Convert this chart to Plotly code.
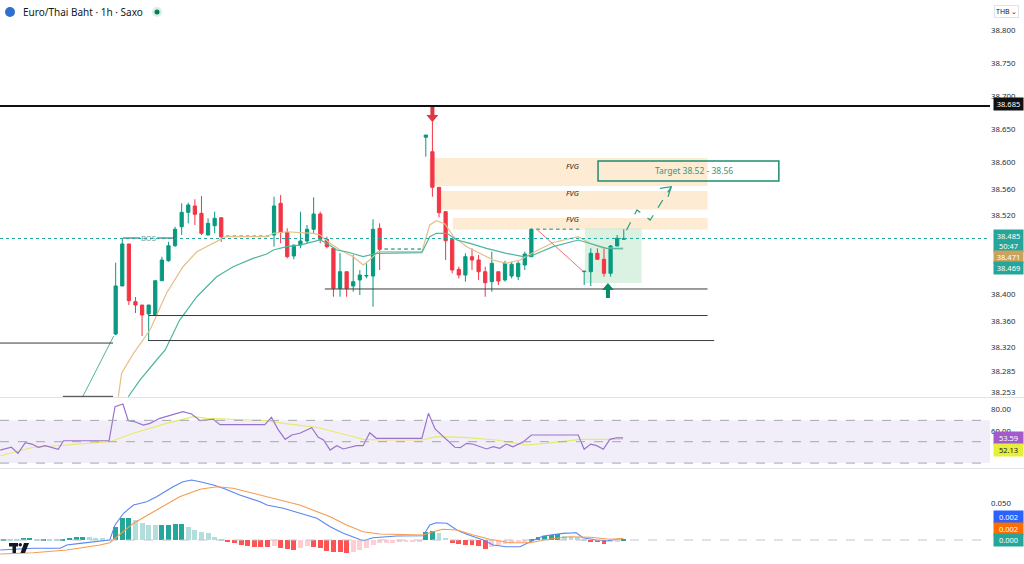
import plotly.graph_objects as go

# ---------------- price data (1h bars, index 0 = first bar in view) ----------------
bar_idx = list(range(78))

opens = ([38.3407, 38.4132, 38.4767, 38.3895, 38.3845, 38.3710, 38.3694, 38.4212, 38.4514,
          38.4740, 38.5028, 38.5245, 38.5341, 38.5230, 38.4902, 38.5043, 38.5164]
         + [38.4885] * 7
         + [38.4902, 38.5381, 38.4943, 38.4585, 38.4751, 38.4812, 38.4989, 38.5220, 38.4837,
            38.4701, 38.4097, 38.4348, 38.4132, 38.4223, 38.4283, 38.4283, 38.5004]
         + [38.4690] * 6
         + [38.6379, 38.6161, 38.5623, 38.5255, 38.4837, 38.4384, 38.4298, 38.4575, 38.4525,
            38.4348, 38.4197, 38.4348, 38.4223, 38.4283, 38.4273, 38.4449, 38.4575]
         + [38.4989] * 7
         + [38.4349, 38.4348, 38.4626, 38.4535, 38.4324, 38.4736, 38.4838])
highs = ([38.4484, 38.4857, 38.4767, 38.3966, 38.3845, 38.3845, 38.4212, 38.4575, 38.4800,
          38.5028, 38.5381, 38.5391, 38.5442, 38.5492, 38.5155, 38.5255, 38.5164]
         + [38.4885] * 7
         + [38.5480, 38.5507, 38.5004, 38.4751, 38.5255, 38.5054, 38.5472, 38.5255, 38.4877,
            38.4701, 38.4630, 38.4348, 38.4600, 38.4373, 38.4475, 38.5140, 38.5079]
         + [38.4690] * 6
         + [38.6413, 38.6620, 38.5623, 38.5255, 38.4837, 38.4424, 38.4626, 38.4701, 38.4600,
            38.4424, 38.4650, 38.4348, 38.4514, 38.4498, 38.4505, 38.4651, 38.5004]
         + [38.4989] * 7
         + [38.4358, 38.4701, 38.4701, 38.4701, 38.4751, 38.4902, 38.4989])
lows = ([38.3392, 38.4132, 38.3845, 38.3724, 38.3376, 38.3316, 38.3694, 38.4212, 38.4499,
         38.4725, 38.4902, 38.5079, 38.5054, 38.4902, 38.4902, 38.4928, 38.4800]
        + [38.4885] * 7
        + [38.4726, 38.4777, 38.4550, 38.4535, 38.4701, 38.4777, 38.4928, 38.4777, 38.4701,
           38.3970, 38.3970, 38.3970, 38.4046, 38.3996, 38.4248, 38.3819, 38.4374]
        + [38.4690] * 6
        + [38.6086, 38.5481, 38.5170, 38.4525, 38.4324, 38.4248, 38.4197, 38.4374, 38.4223,
           38.3970, 38.4046, 38.4147, 38.4197, 38.4248, 38.4223, 38.4374, 38.4575]
        + [38.4989] * 7
        + [38.4147, 38.4132, 38.4535, 38.4273, 38.4273, 38.4736, 38.4838])
closes = ([38.4132, 38.4767, 38.3910, 38.3845, 38.3694, 38.3845, 38.4212, 38.4525, 38.4740,
           38.4989, 38.5245, 38.5356, 38.5215, 38.4928, 38.5079, 38.5155, 38.4875]
          + [38.4885] * 7
          + [38.5341, 38.4943, 38.4575, 38.4751, 38.4812, 38.4989, 38.5220, 38.4837, 38.4726,
             38.4097, 38.4348, 38.4097, 38.4197, 38.4298, 38.4290, 38.4989, 38.4686]
          + [38.4690] * 6
          + [38.6413, 38.5623, 38.5240, 38.4816, 38.4374, 38.4298, 38.4575, 38.4525, 38.4348,
             38.4182, 38.4475, 38.4207, 38.4475, 38.4460, 38.4475, 38.4615, 38.4989]
          + [38.4989] * 7
          + [38.4355, 38.4626, 38.4535, 38.4324, 38.4736, 38.4853, 38.4850])

# moving averages (bar index, price)
ema_fast_x = [0.4, 0.9, 2.7, 5.2, 7.7, 10.2, 12.3, 14.3, 15.8, 16.7, 22.9, 23.9, 25.9, 27.9, 29.9,
              31.0, 32.5, 34.0, 36.0, 37.5, 38.5, 39.8, 46.4, 47.6, 48.6, 49.9, 51.2, 53.2, 55.2,
              57.2, 59.2, 61.3, 63.3, 66.3, 70.1, 71.9, 73.9, 75.4, 76.9]
ema_fast_y = [38.2459, 38.2813, 38.3115, 38.3467, 38.4022, 38.4423, 38.4650, 38.4751, 38.4837,
              38.4877, 38.4877, 38.4928, 38.4952, 38.4937, 38.4928, 38.4902, 38.4777, 38.4676,
              38.4575, 38.4449, 38.4525, 38.4650, 38.4650, 38.5054, 38.5119, 38.5069, 38.4877,
              38.4726, 38.4626, 38.4525, 38.4475, 38.4525, 38.4638, 38.4789, 38.4877, 38.4777,
              38.4701, 38.4701, 38.4710]
ema_slow_x = [1.9, 3.7, 6.2, 7.5, 9.7, 12.3, 15.3, 17.8, 20.8, 22.9, 23.9, 25.9, 27.9, 29.9, 31.0,
              32.0, 33.5, 35.0, 37.5, 39.5, 46.4, 47.6, 48.6, 50.2, 51.7, 53.7, 56.2, 59.2, 61.8,
              63.3, 66.3, 70.1, 71.9, 74.4, 76.9]
ema_slow_y = [38.2459, 38.2712, 38.3014, 38.3165, 38.3618, 38.3970, 38.4272, 38.4423, 38.4550,
              38.4615, 38.4676, 38.4726, 38.4751, 38.4801, 38.4827, 38.4777, 38.4676, 38.4650,
              38.4575, 38.4626, 38.4635, 38.4877, 38.4928, 38.4928, 38.4827, 38.4777, 38.4701,
              38.4626, 38.4575, 38.4600, 38.4726, 38.4827, 38.4777, 38.4701, 38.4694]

# ---------------- RSI pane ----------------
rsi_x = [-17.5, -15.8, -14.8, -13.7, -12.7, -11.7, -10.7, -8.7, -7.9, -1.0, -0.1, 1.1, 1.9, 2.9,
         4.2, 5.2, 6.7, 8.7, 10.2, 11.5, 12.8, 14.8, 15.8, 22.6, 23.6, 24.6, 25.7, 26.7, 27.9,
         29.7, 30.7, 31.5, 32.5, 33.5, 34.5, 36.5, 37.5, 38.5, 39.5, 46.4, 47.4, 48.4, 49.6,
         51.4, 52.2, 53.2, 54.2, 56.2, 57.2, 58.2, 59.2, 60.2, 61.8, 63.0, 70.1, 71.0, 72.0,
         72.9, 73.9, 74.9, 75.9, 76.9]
rsi_y = [42.2, 44.8, 39.1, 49.1, 47.8, 44.8, 46.3, 42.9, 50.9, 50.9, 82.8, 85.3, 69.7, 68.7,
         65.6, 67.2, 71.9, 75.7, 78.1, 75.9, 69.7, 71.0, 65.9, 65.9, 72.9, 61.6, 52.2, 56.3, 57.9,
         63.1, 54.1, 51.6, 42.2, 46.3, 43.2, 46.3, 46.3, 58.4, 53.2, 53.2, 76.6, 61.9, 54.7,
         44.8, 44.4, 48.5, 47.6, 43.2, 45.3, 43.8, 47.8, 45.3, 50.0, 56.3, 56.3, 42.9, 47.8,
         46.3, 42.9, 52.2, 53.7, 53.59]
rsi_ma_x = [-17.5, -12.5, -7.4, -0.9, 2.7, 7.7, 11.8, 13.8, 22.9, 25.4, 30.5, 32.5, 35.0, 37.5,
            40.0, 46.4, 48.6, 52.7, 57.7, 62.3, 65.3, 70.4, 76.9]
rsi_ma_y = [36.9, 44.8, 46.9, 50.0, 57.9, 67.2, 73.4, 71.9, 69.7, 67.2, 63.5, 60.0, 56.3, 52.2,
            51.6, 51.6, 54.7, 54.1, 51.6, 46.9, 48.5, 52.2, 52.13]

# ---------------- MACD pane ----------------
macd_x = [-17.5, -14.5, -12.5, -8.4, -7.4, -5.4, -0.9, -0.1, 1.2, 2.7, 4.7, 6.2, 8.7, 10.2, 11.5,
          12.8, 14.8, 16.3, 18.8, 21.9, 22.9, 25.4, 27.9, 30.5, 32.5, 34.5, 37.5, 39.0, 42.6,
          46.6, 47.6, 48.6, 50.2, 51.7, 53.2, 55.7, 57.2, 59.2, 61.3, 62.8, 64.8, 67.8, 69.8,
          70.8, 72.9, 74.4, 75.9, 76.9]
macd_y = [-0.0136, -0.0127, -0.0113, -0.0113, -0.0068, -0.0045, 0.0, 0.0204, 0.0364, 0.0477,
          0.0522, 0.0590, 0.0726, 0.0794, 0.0817, 0.0794, 0.0749, 0.0704, 0.0613, 0.0522, 0.0477,
          0.0432, 0.0364, 0.0296, 0.0181, 0.0091, -0.0010, 0.0031, 0.0054, 0.0059, 0.0204,
          0.0236, 0.0228, 0.0136, 0.0078, 0.0, -0.0068, -0.0091, -0.0091, -0.0023, 0.0054,
          0.0091, 0.0099, 0.0031, 0.0, -0.0014, 0.0010, 0.0020]
signal_x = [-17.5, -12.5, -7.4, -2.4, -0.9, 2.7, 6.2, 9.7, 12.8, 15.3, 17.8, 22.9, 27.9, 32.5,
            35.0, 37.5, 40.0, 46.6, 48.1, 49.6, 51.7, 54.2, 56.7, 59.7, 62.8, 65.8, 68.8, 71.9,
            74.9, 76.9]
signal_y = [-0.0191, -0.0173, -0.0136, -0.0068, -0.0037, 0.0228, 0.0409, 0.0590, 0.0691, 0.0726,
            0.0704, 0.0590, 0.0477, 0.0317, 0.0204, 0.0113, 0.0082, 0.0068, 0.0113, 0.0146,
            0.0136, 0.0068, 0.0010, -0.0037, -0.0037, 0.0014, 0.0045, 0.0037, 0.0010, 0.0020]
hist_x = list(range(-17, 78))
hist_y = ([0.0020, 0.0010, 0.0010, 0.0030, 0.0032, 0.0010, 0.0020, 0.0010, 0.0008, 0.0020,
           0.0030, 0.0040, 0.0042, 0.0035, 0.0030, 0.0025, 0.0020]
          + [0.0180, 0.0300, 0.0305, 0.0270, 0.0227, 0.0204, 0.0200, 0.0205, 0.0210, 0.0212,
             0.0214, 0.0180, 0.0136, 0.0113, 0.0090, 0.0045, 0.0010]
          + [-0.0023, -0.0045, -0.0068, -0.0082, -0.0090, -0.0092, -0.0100, -0.0082, -0.0113,
             -0.0127, -0.0136, -0.0110, -0.0082, -0.0095, -0.0113, -0.0145, -0.0160]
          + [-0.0165, -0.0180, -0.0160, -0.0136, -0.0104, -0.0068, -0.0045, -0.0040, -0.0036,
             -0.0032, -0.0030, -0.0028, -0.0026]
          + [0.0105, 0.0122, 0.0090, 0.0030, -0.0036, -0.0060, -0.0068, -0.0070, -0.0082,
             -0.0127, -0.0095, -0.0068, -0.0055, -0.0036, -0.0023, -0.0014]
          + [0.0014, 0.0036, 0.0055, 0.0068, 0.0077, 0.0055, 0.0045, 0.0036, 0.0014, -0.0023,
             -0.0030, -0.0055, -0.0030, -0.0014, 0.0005])

# ---------------- drawings ----------------
resistance = 38.685
last_price = 38.485
price_ticks = [38.253, 38.285, 38.32, 38.36, 38.40, 38.52, 38.56, 38.60, 38.65, 38.70, 38.75, 38.80]
# horizontal rays: (start bar, end bar, price)
rays = [(-17.6, -0.4, 38.327), (-8.0, -0.4, 38.2465), (31.7, 89.7, 38.4087),
        (5.0, 89.7, 38.3686), (4.9, 90.7, 38.3308)]
# fair value gaps: (start bar, end bar, low, high, label price)
fvgs = [(47.5, 89.7, 38.5643, 38.6066, 38.5945),
        (48.7, 89.7, 38.5288, 38.5567, 38.5537),
        (51.1, 89.7, 38.4986, 38.5159, 38.5144)]
bos_level = 38.4857
path_x = [77.4, 79.0, 81.0, 84.2]
path_y = [38.4975, 38.5280, 38.5129, 38.5632]
head_x = [82.5, 84.2, 83.7]
head_y = [38.5608, 38.5632, 38.5481]
entry_zone = (71.1, 79.7, 38.4177, 38.5004)
target_box = (73.1, 100.5, 38.5719, 38.6021)
down_line_x = [63.8, 70.8]
down_line_y = [38.4989, 38.4358]
lead_line_x = [-5.2, -0.3]
lead_line_y = [38.2420, 38.3376]

GREEN = "#089981"
RED = "#f23645"
FONT = "Noto Sans"


def fx(px):
    return px / 990


def fy(py):
    return (560 - py) / 540


X_PX = 6.6        # pixel width of one bar
Y_PX = 0.001511   # price per pixel


def arrow(xc, ytip, up, color):
    # small block arrow drawn in data units
    hw, sw, hh, tot = 6 / X_PX, 2 / X_PX, 7 * Y_PX, 15 * Y_PX
    s = 1 if up else -1
    pts = [(xc, ytip), (xc + hw, ytip - s * hh), (xc + sw, ytip - s * hh),
           (xc + sw, ytip - s * tot), (xc - sw, ytip - s * tot), (xc - sw, ytip - s * hh),
           (xc - hw, ytip - s * hh)]
    path = "M " + " L ".join(f"{a},{b}" for a, b in pts) + " Z"
    return dict(type="path", xref="x", yref="y", path=path, fillcolor=color,
                line=dict(color=color, width=0))


def paper_poly(pts, color):
    path = "M " + " L ".join(f"{fx(a)},{fy(b)}" for a, b in pts) + " Z"
    return dict(type="path", xref="paper", yref="paper", path=path, fillcolor=color,
                line=dict(width=0))


# quiet (no-range) bars are drawn lighter, like the reference
flat = [h == l for h, l in zip(highs, lows)]


def pick(vals, want):
    return [v if f == want else None for v, f in zip(vals, flat)]


fig = go.Figure()

fig.add_trace(go.Candlestick(
    x=bar_idx, open=pick(opens, False), high=pick(highs, False), low=pick(lows, False),
    close=pick(closes, False),
    increasing=dict(line=dict(color=GREEN, width=1), fillcolor=GREEN),
    decreasing=dict(line=dict(color=RED, width=1), fillcolor=RED),
    whiskerwidth=0, hoverinfo="skip", xaxis="x", yaxis="y"))
fig.add_trace(go.Candlestick(
    x=bar_idx, open=pick(opens, True), high=pick(highs, True), low=pick(lows, True),
    close=pick(closes, True),
    increasing=dict(line=dict(color="#5fb3a6", width=1), fillcolor="#5fb3a6"),
    decreasing=dict(line=dict(color="#5fb3a6", width=1), fillcolor="#5fb3a6"),
    whiskerwidth=0, hoverinfo="skip", xaxis="x", yaxis="y"))
fig.add_trace(go.Scatter(x=ema_fast_x, y=ema_fast_y, mode="lines",
                         line=dict(color="#e6be86", width=1.2), xaxis="x", yaxis="y"))
fig.add_trace(go.Scatter(x=ema_slow_x, y=ema_slow_y, mode="lines",
                         line=dict(color="#4fb5a0", width=1.2), xaxis="x", yaxis="y"))
fig.add_trace(go.Scatter(x=lead_line_x, y=lead_line_y, mode="lines",
                         line=dict(color="#4fb5a0", width=1), xaxis="x", yaxis="y"))
fig.add_trace(go.Scatter(x=down_line_x, y=down_line_y, mode="lines",
                         line=dict(color="#ef6f78", width=1), xaxis="x", yaxis="y"))
fig.add_trace(go.Scatter(x=path_x, y=path_y, mode="lines",
                         line=dict(color="#2e9c80", width=1.2, dash="dash"), xaxis="x", yaxis="y"))
fig.add_trace(go.Scatter(x=head_x, y=head_y, mode="lines",
                         line=dict(color="#2e9c80", width=1.2), xaxis="x", yaxis="y"))

# RSI
fig.add_trace(go.Scatter(x=rsi_ma_x, y=rsi_ma_y, mode="lines",
                         line=dict(color="#e6ea6a", width=1.2), xaxis="x2", yaxis="y2"))
fig.add_trace(go.Scatter(x=rsi_x, y=rsi_y, mode="lines",
                         line=dict(color="#9a73cf", width=1.2), xaxis="x2", yaxis="y2"))

# MACD
hist_colors = []
prev = 0
for v in hist_y:
    if v >= 0:
        hist_colors.append("#26a69a" if v > prev else "#b2dfdb")
    else:
        hist_colors.append("#ff5252" if v < prev else "#ffcdd2")
    prev = v
fig.add_trace(go.Bar(x=hist_x, y=hist_y, marker=dict(color=hist_colors, line=dict(width=0)),
                     width=0.75, xaxis="x3", yaxis="y3"))
fig.add_trace(go.Scatter(x=macd_x, y=macd_y, mode="lines",
                         line=dict(color="#5a86f0", width=1.1), xaxis="x3", yaxis="y3"))
fig.add_trace(go.Scatter(x=signal_x, y=signal_y, mode="lines",
                         line=dict(color="#f79a4f", width=1.1), xaxis="x3", yaxis="y3"))

shapes = []
for x0, x1, lo, hi, _ in fvgs:
    shapes.append(dict(type="rect", xref="x", yref="y", x0=x0, x1=x1, y0=lo, y1=hi,
                       fillcolor="rgba(253,215,170,0.5)", line=dict(width=0), layer="below"))
shapes.append(dict(type="rect", xref="x", yref="y", x0=entry_zone[0], x1=entry_zone[1],
                   y0=entry_zone[2], y1=entry_zone[3], fillcolor="rgba(190,230,200,0.55)",
                   line=dict(width=0), layer="below"))
shapes.append(dict(type="rect", xref="x", yref="y", x0=target_box[0], x1=target_box[1],
                   y0=target_box[2], y1=target_box[3], line=dict(color="#1e8c6e", width=1.5)))
for x0, x1, p in rays:
    shapes.append(dict(type="line", xref="x", yref="y", x0=x0, x1=x1, y0=p, y1=p,
                       line=dict(color="#3b3b3b", width=1)))
shapes.append(dict(type="line", xref="x", yref="y", x0=1.1, x1=3.7, y0=bos_level, y1=bos_level,
                   line=dict(color="#4a4a4a", width=1)))
shapes.append(dict(type="line", xref="x", yref="y", x0=6.3, x1=9.0, y0=bos_level, y1=bos_level,
                   line=dict(color="#4a4a4a", width=1)))
shapes.append(dict(type="line", xref="paper", yref="y", x0=0, x1=1, y0=resistance, y1=resistance,
                   line=dict(color="#111111", width=2)))
shapes.append(dict(type="line", xref="paper", yref="y", x0=0, x1=1, y0=last_price, y1=last_price,
                   line=dict(color="#26a69a", width=1, dash="dot")))
shapes.append(arrow(48.0, 38.661, False, "#e2363f"))
shapes.append(arrow(74.6, 38.4177, True, "#0b8a6a"))
# RSI band and levels
shapes.append(dict(type="rect", xref="paper", yref="y2", x0=0, x1=1, y0=30, y1=70,
                   fillcolor="rgba(126,87,194,0.1)", line=dict(width=0), layer="below"))
for lvl in (70, 50, 30):
    shapes.append(dict(type="line", xref="paper", yref="y2", x0=0, x1=1, y0=lvl, y1=lvl,
                       line=dict(color="#a3a6af", width=1, dash="dash")))
shapes.append(dict(type="line", xref="paper", yref="y3", x0=0, x1=1, y0=0, y1=0,
                   line=dict(color="#c3c6ce", width=1, dash="dash")))
# pane separators
for sep in (397.5, 468.5):
    shapes.append(dict(type="line", xref="paper", yref="paper", x0=0, x1=1.035,
                       y0=fy(sep), y1=fy(sep), line=dict(color="#e0e3eb", width=1)))
# header icons
shapes.append(dict(type="circle", xref="paper", yref="paper", x0=fx(5), x1=fx(15),
                   y0=fy(17), y1=fy(7), fillcolor="#2f6fd0", line=dict(width=0)))
shapes.append(dict(type="circle", xref="paper", yref="paper", x0=fx(152), x1=fx(162),
                   y0=fy(17), y1=fy(7), fillcolor="#d7efe6", line=dict(width=0)))
shapes.append(dict(type="circle", xref="paper", yref="paper", x0=fx(154.5), x1=fx(159.5),
                   y0=fy(14.5), y1=fy(9.5), fillcolor="#0b7a5c", line=dict(width=0)))
# small logo mark, bottom left
shapes.append(paper_poly([(9, 543), (18, 543), (18, 546.5), (16, 546.5), (16, 553), (12.5, 553),
                          (12.5, 546.5), (9, 546.5)], "#131722"))
shapes.append(dict(type="circle", xref="paper", yref="paper", x0=fx(18.5), x1=fx(22),
                   y0=fy(546.5), y1=fy(543), fillcolor="#131722", line=dict(width=0)))
shapes.append(paper_poly([(24, 543), (29, 543), (25, 553), (20.5, 553)], "#131722"))

annotations = [
    dict(text="Euro/Thai Baht · 1h · Saxo", xref="paper", yref="paper", x=fx(21), y=fy(12),
         xanchor="left", yanchor="middle", showarrow=False,
         font=dict(family=FONT, size=10, color="#131722")),
    dict(text="THB ⌄", xref="paper", yref="paper", x=fx(1006), y=fy(12), xanchor="center",
         yanchor="middle", showarrow=False, bordercolor="#e0e3eb", borderwidth=1, borderpad=1,
         font=dict(family=FONT, size=7, color="#131722")),
    dict(text="BOS", xref="x", yref="y", x=5.0, y=bos_level, showarrow=False,
         font=dict(family=FONT, size=7.5, color="#5a9b9c")),
    dict(text="Target 38.52 - 38.56", xref="x", yref="y",
         x=(target_box[0] + target_box[1]) / 2 + 0.8, y=(target_box[2] + target_box[3]) / 2,
         showarrow=False, font=dict(family=FONT, size=8.5, color="#2f9a7c")),
]
for _, _, _, _, lab in fvgs:
    annotations.append(dict(text="<i>FVG</i>", xref="x", yref="y", x=69.3, y=lab,
                            showarrow=False, font=dict(family=FONT, size=7.5, color="#222222")))


def axis_label(text, py, bg, fg="#ffffff"):
    return dict(text=text, xref="paper", yref="paper", x=fx(993), y=fy(py), xanchor="left",
                yanchor="middle", showarrow=False, bgcolor=bg, borderpad=1, width=27,
                align="center", font=dict(family=FONT, size=7.5, color=fg))


annotations += [
    axis_label("38.685", 104, "#111111"),
    axis_label("38.485<br>50:47", 241, "#26a69a"),
    axis_label("38.471", 256.5, "#c9a35e"),
    axis_label("38.469", 268, "#26a69a"),
    axis_label("53.59", 438, "#a35bc9"),
    axis_label("52.13", 450, "#e6f03a", "#131722"),
    axis_label("0.002", 517, "#2962ff"),
    axis_label("0.002", 528.5, "#ff6d00"),
    axis_label("0.000", 540, "#26a69a"),
]

tick_font = dict(family=FONT, size=7.8, color="#2a2e39")
x_common = dict(range=[-17.53, 132.5], showticklabels=False, showgrid=False, zeroline=False,
                showline=False, ticks="")

fig.update_layout(
    width=1024, height=564,
    margin=dict(l=0, r=34, t=20, b=4),
    paper_bgcolor="white", plot_bgcolor="white",
    showlegend=False, hovermode=False,
    bargap=0,
    xaxis=dict(domain=[0, 1], anchor="y", rangeslider=dict(visible=False), **x_common),
    xaxis2=dict(domain=[0, 1], anchor="y2", matches="x", **x_common),
    xaxis3=dict(domain=[0, 1], anchor="y3", matches="x", **x_common),
    yaxis=dict(domain=[fy(397), fy(20)], side="right", range=[38.2455, 38.8151],
               tickvals=price_ticks, ticktext=[f"{v:.3f}" for v in price_ticks],
               showgrid=False, zeroline=False, ticks="", tickfont=tick_font, anchor="x"),
    yaxis2=dict(domain=[fy(468), fy(398)], side="right", range=[25.4, 90.9],
                tickvals=[60, 80], ticktext=["60.00", "80.00"], showgrid=False,
                zeroline=False, ticks="", tickfont=tick_font, anchor="x2"),
    yaxis3=dict(domain=[0, fy(469)], side="right", range=[-0.0272, 0.0967],
                tickvals=[0.05], ticktext=["0.050"], showgrid=False, zeroline=False,
                ticks="", tickfont=tick_font, anchor="x3"),
    shapes=shapes,
    annotations=annotations,
)

fig.write_html("out.html", config={"displayModeBar": False},
               post_script="document.body.style.margin='0';document.body.style.overflow='hidden';")
